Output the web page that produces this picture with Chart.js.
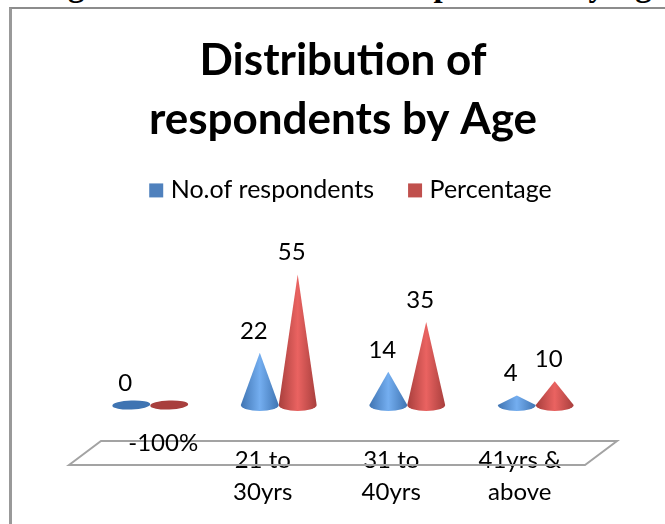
<!DOCTYPE html>
<html>
<head>
<meta charset="utf-8">
<script src="https://cdn.jsdelivr.net/npm/chart.js@4"></script>
<style>
  html, body { margin: 0; padding: 0; background: #fff; overflow: hidden; }
  #caption { position: absolute; left: 20px; top: -31px; width: 665px; text-align: center; white-space: nowrap;
    font: bold 33px/33px "Liberation Serif", serif; color: #000; }
  #frame { position: absolute; left: 9px; top: 7px; width: 660px; height: 530px; border-left: 3px solid #999; border-top: 2px solid #8c8c8c; }
  #wrap { position: absolute; left: 0; top: 0; width: 665px; height: 524px; }
</style>
</head>
<body>
<div id="caption">Figure 1: Distribution of respondents by Age</div>
<div id="frame"></div>
<div id="wrap"><canvas id="grafica" width="665" height="524"></canvas></div>
<script>
const titulo = ['Distribution of', 'respondents by Age'];
const categorias = ['', ['21 to', '30yrs'], ['31 to', '40yrs'], ['41yrs &', 'above']];
const respondents = [0, 22, 14, 4];
const percentage = [0, 55, 35, 10];
const etiquetasRespondents = ['0', '22', '14', '4'];
const etiquetasPercentage = ['-100%', '55', '35', '10'];
const fuente = 'Lato, Carlito, sans-serif';

const AZUL = '#4f81bd', ROJO = '#c0504d';
const tonos = { [AZUL]: ['#3f74b2', '#74aef0'], [ROJO]: ['#a83f3d', '#ea6361'] };

// each bar is drawn as a cone, from the same x / y / base / width the bar would use
Chart.BarElement.prototype.draw = function (ctx) {
  const { x, y, base, width } = this.getProps(['x', 'y', 'base', 'width']);
  const colores = tonos[this.options.backgroundColor];
  const rx = width / 2, ry = 6;
  ctx.save();
  if (base - y < 1) {
    ctx.fillStyle = colores[0];
    ctx.beginPath();
    ctx.ellipse(x, base, rx, ry - 1.5, -0.04, 0, Math.PI * 2);
    ctx.fill();
  } else {
    const g = ctx.createLinearGradient(x - rx, 0, x + rx, 0);
    g.addColorStop(0, colores[0]);
    g.addColorStop(0.5, colores[1]);
    g.addColorStop(1, colores[0]);
    ctx.fillStyle = g;
    ctx.beginPath();
    ctx.moveTo(x, y);
    ctx.lineTo(x - rx, base);
    ctx.ellipse(x, base, rx, ry, 0, Math.PI, 0, true);
    ctx.closePath();
    ctx.fill();
  }
  ctx.restore();
};

const extras = {
  id: 'extras',
  afterLayout(chart) {
    // legend sits a little right of the plot centre in the original
    chart.legend.left += 10;
    chart.legend.right += 10;
  },
  beforeDatasetsDraw(chart) {
    // floor of the 3D chart
    const { ctx, chartArea: a } = chart;
    ctx.save();
    ctx.strokeStyle = '#a3a3a3';
    ctx.lineWidth = 2;
    ctx.beginPath();
    ctx.moveTo(a.left - 17, a.bottom + 60);
    ctx.lineTo(a.left + 15, a.bottom + 36);
    ctx.lineTo(a.right + 17, a.bottom + 36);
    ctx.lineTo(a.right - 15, a.bottom + 60);
    ctx.closePath();
    ctx.stroke();
    ctx.restore();
  },
  afterDatasetsDraw(chart) {
    const { ctx, chartArea: a } = chart;
    ctx.save();
    ctx.fillStyle = '#000';
    ctx.font = '24px ' + fuente;
    ctx.textAlign = 'center';
    ctx.textBaseline = 'middle';
    chart.getDatasetMeta(0).data.forEach((barra, j) => {
      ctx.fillText(etiquetasRespondents[j], barra.x - 6, barra.y - 22);
    });
    chart.getDatasetMeta(1).data.forEach((barra, j) => {
      // the zero bar's label sits down on the floor in the original
      const y = j === 0 ? a.bottom + 38 : barra.y - 22;
      ctx.fillText(etiquetasPercentage[j], barra.x - 6, y);
    });
    ctx.restore();
  }
};

new Chart(document.getElementById('grafica'), {
  type: 'bar',
  data: {
    labels: categorias,
    datasets: [
      { label: 'No.of respondents', data: respondents, backgroundColor: AZUL, clip: false },
      { label: 'Percentage', data: percentage, backgroundColor: ROJO, clip: false }
    ]
  },
  options: {
    responsive: false,
    animation: false,
    layout: { padding: { left: 86, right: 65, top: 31, bottom: 0 } },
    datasets: { bar: { categoryPercentage: 0.59, barPercentage: 1 } },
    plugins: {
      title: {
        display: true,
        text: titulo,
        color: '#000',
        font: { family: fuente, size: 44, weight: 'bold', lineHeight: 1.34 },
        padding: { top: 0, bottom: -10 }
      },
      legend: {
        display: true,
        labels: { color: '#000', usePointStyle: true, pointStyle: 'rect', boxWidth: 4, boxHeight: 14, padding: 39, font: { family: fuente, size: 25 } }
      },
      tooltip: { enabled: false }
    },
    scales: {
      x: {
        grid: { display: false },
        border: { display: false },
        afterFit(scale) { scale.height = 119; },
        ticks: { color: '#000', font: { family: fuente, size: 24, lineHeight: 1.35 }, padding: 31, labelOffset: -16, maxRotation: 0, autoSkip: false }
      },
      y: { display: false, min: 0, max: 81 }
    }
  },
  plugins: [extras]
});
</script>
</body>
</html>
